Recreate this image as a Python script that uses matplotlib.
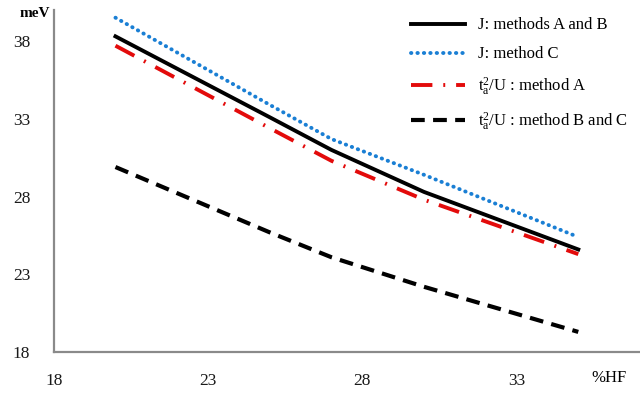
import matplotlib
matplotlib.use("Agg")
import matplotlib.pyplot as plt

plt.rcParams['font.family'] = ['Liberation Serif', 'DejaVu Serif']
plt.rcParams['mathtext.fontset'] = 'custom'
plt.rcParams['mathtext.rm'] = 'Liberation Serif'
plt.rcParams['mathtext.it'] = 'Liberation Serif'

hf = [20, 25, 27, 30, 35]
j_ab = [38.3, 33.1, 31.0, 28.3, 24.6]
j_c = [39.5, 33.9, 31.7, 29.4, 25.4]
t2u_a = [37.7, 32.4, 30.3, 27.8, 24.3]
t2u_bc = [29.9, 25.7, 24.1, 22.2, 19.3]

xticks = [18, 23, 28, 33]
yticks = [18, 23, 28, 33, 38]

fig = plt.figure(figsize=(6.4, 3.97), dpi=100)
ax = fig.add_axes([0.084, 0.113, 0.916, 0.862])

ax.plot(hf, j_ab, color='black', lw=2.8, label='J: methods A and B')
ax.plot(hf, j_c, color='#1a7fd4', lw=2.8, ls=(0, (0.1, 1.55)),
        dash_capstyle='round', label='J: method C')
ax.plot(hf, t2u_a, color='#e30b0b', lw=2.8, ls=(0, (5.5, 2.8, 0.5, 2.8)),
        label=r'$\mathregular{t_a^2}$/U : method A')
ax.plot(hf, t2u_bc, color='black', lw=3.0, ls=(0, (3.3, 2.0)),
        label=r'$\mathregular{t_a^2}$/U : method B and C')

ax.set_xlim(18, 37)
ax.set_ylim(18, 40)
ax.set_xticks(xticks)
ax.set_yticks(yticks)
ax.tick_params(length=0, labelsize=12.5, colors='#1a1a1a')
ax.tick_params(axis='x', pad=15)
ax.tick_params(axis='y', pad=17)
for s in ['top', 'right']:
    ax.spines[s].set_visible(False)
for s in ['left', 'bottom']:
    ax.spines[s].set_color('#8a8a8a')
    ax.spines[s].set_linewidth(1.6)

fig.text(0.055, 0.967, 'meV', fontsize=11, ha='center', va='center',
         fontweight='bold')
fig.text(0.952, 0.047, '%HF', fontsize=12, ha='center', va='center')

leg = ax.legend(loc='upper right', bbox_to_anchor=(1.005, 1.022), frameon=False,
                fontsize=12, handlelength=3.2, labelspacing=0.78,
                handletextpad=0.8)

fig.savefig('out.png', dpi=100)
